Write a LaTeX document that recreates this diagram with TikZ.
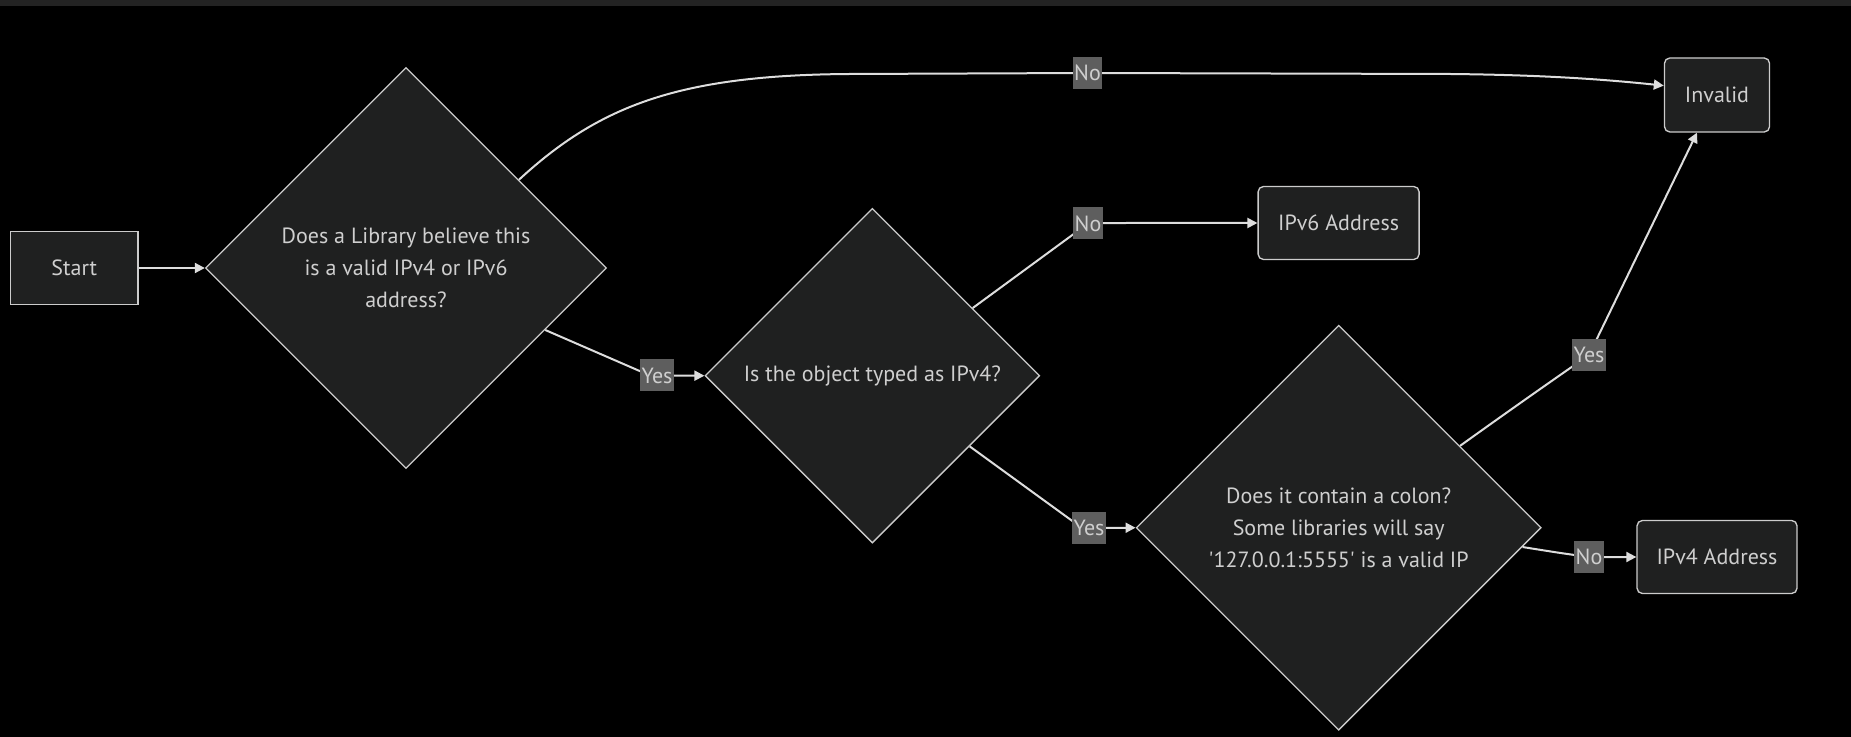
\documentclass[tikz,border=0pt]{standalone}
\usepackage{fontspec}
\setmainfont{PT Sans}
\usepackage{tikz}
\usetikzlibrary{shapes.geometric, arrows.meta}
\definecolor{canvas}{HTML}{000000}
\definecolor{topbar}{HTML}{232323}
\definecolor{nodefill}{HTML}{1F2020}
\definecolor{border}{HTML}{CCCCCC}
\definecolor{ink}{HTML}{CFCFCF}
\definecolor{wire}{HTML}{DDDDDD}
\definecolor{tagfill}{HTML}{5E5E5E}
\newcommand\nodefont{\fontsize{16.5}{24}\selectfont}
\tikzset{
  box/.style={rectangle, draw=border, fill=nodefill, text=ink, line width=1pt, align=center, font=\nodefont, inner sep=0pt, minimum height=54.75pt},
  roundbox/.style={box, rounded corners=4pt},
  decision/.style={diamond, draw=border, fill=nodefill, text=ink, line width=1pt, align=center, font=\nodefont, inner sep=0pt, aspect=1},
  arrow/.style={-{Triangle[length=7.5pt, width=7.5pt]}, line width=1.5pt, color=wire},
  edgetag/.style={rectangle, fill=tagfill, text=ink, font=\nodefont, inner xsep=1pt, inner ysep=0pt, minimum height=24pt},
}
\begin{document}
\begin{tikzpicture}[x=0.75pt, y=-0.75pt]
  \fill[canvas] (0,0) rectangle (1851,737);
  \fill[topbar] (0,0) rectangle (1851,6);
  \useasboundingbox (0,0) rectangle (1851,737);
  \node[box, minimum width=95.5pt] (start) at (74.3,268) {Start};
  \node[decision, minimum width=300.75pt, minimum height=300.75pt] (lib) at (406,268) {Does a Library believe this\\is a valid IPv4 or IPv6\\address?};
  \node[decision, minimum width=251pt, minimum height=251pt] (typed) at (872.4,375.7) {Is the object typed as IPv4?};
  \node[decision, minimum width=303.75pt, minimum height=303.75pt] (colon) at (1338.7,527.7) {Does it contain a colon?\\Some libraries will say\\\textquotesingle 127.0.0.1:5555\textquotesingle{} is a valid IP};
  \node[roundbox, minimum width=78.8pt, minimum height=55.5pt] (invalid) at (1717,95) {Invalid};
  \node[roundbox, minimum width=120.75pt] (vsix) at (1338.6,223) {IPv6 Address};
  \node[roundbox, minimum width=120pt] (vfour) at (1717,557) {IPv4 Address};
  \coordinate (nolib) at (1087.5,73);
  \coordinate (yeslib) at (657,375.5);
  \coordinate (notyped) at (1088,223.5);
  \coordinate (yestyped) at (1089,528);
  \coordinate (yescolon) at (1589,355);
  \coordinate (nocolon) at (1589,557);
  \draw[arrow] (start) -- (lib);
  \draw[arrow] (lib.38) .. controls (600,105) and (680,75) .. (850,74) -- (nolib) -- (1450,74) .. controls (1550,75) and (1610,80) .. (invalid.170);
  \draw[arrow] (lib.-24) -- (650,375.5) -- (typed.west);
  \draw[arrow] (typed.34) -- (notyped) .. controls (1110,223) .. (1140,223) -- (vsix.west);
  \draw[arrow] (typed.-36) -- (1082,528) -- (colon.west);
  \draw[arrow] (colon.34) .. controls (1510,410) and (1560,375) .. (yescolon) -- (invalid.-118);
  \draw[arrow] (colon.-6.5) .. controls (1560,553) .. (nocolon) -- (vfour.west);
  \node[edgetag] at (nolib) {No};
  \node[edgetag] at (yeslib) {Yes};
  \node[edgetag] at (notyped) {No};
  \node[edgetag] at (yestyped) {Yes};
  \node[edgetag] at (yescolon) {Yes};
  \node[edgetag] at (nocolon) {No};
\end{tikzpicture}
\end{document}
